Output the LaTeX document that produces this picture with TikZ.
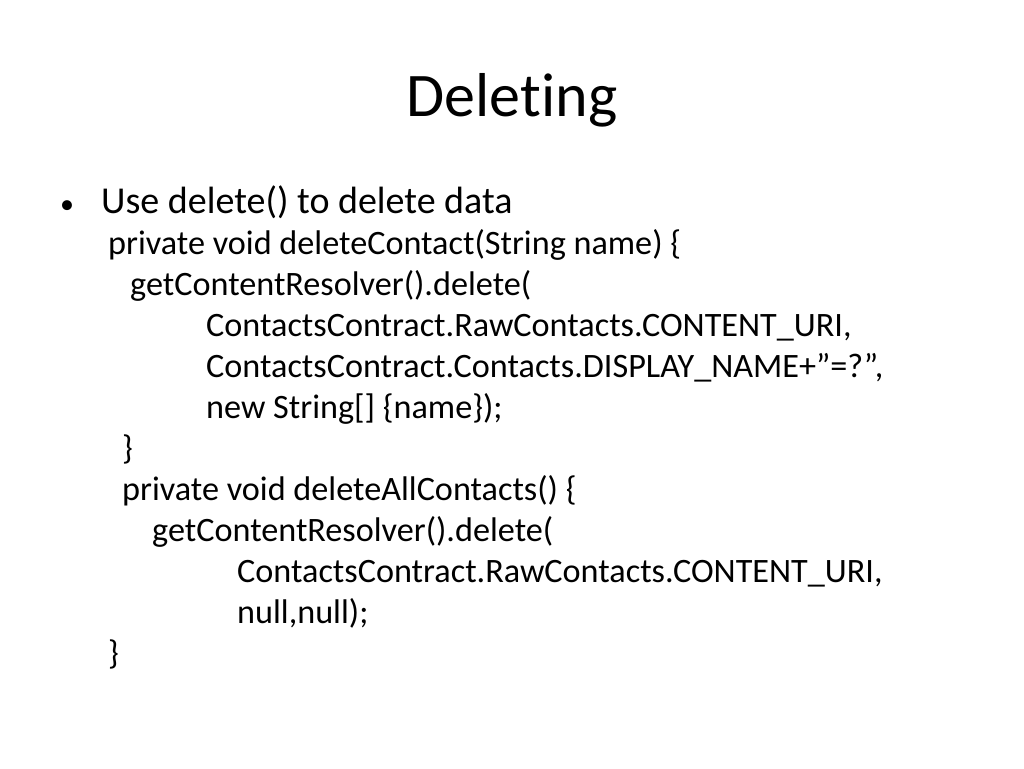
\documentclass[tikz,border=0pt]{standalone}
\usepackage{fontspec}
\setmainfont{Carlito}[Ligatures={NoCommon}]
\begin{document}
\begin{tikzpicture}[x=1pt,y=-1pt,
  ln/.style={anchor=mid west,inner sep=0pt,font=\fontsize{34.2}{40}\selectfont},
  bl/.style={anchor=mid west,inner sep=0pt,font=\fontsize{38}{44}\selectfont}]
\useasboundingbox (0,0) rectangle (1024,768);
\node[inner sep=0pt,font=\fontsize{62}{70}\selectfont] (title) at (512,100) {Deleting};
\node[anchor=mid west,inner sep=0pt,font=\fontsize{28}{30}\selectfont] (b) at (60,211) {•};
\node[bl] (l0) at (101,211) {Use delete() to delete data};
\node[ln] (l1) at (108,252) {private void deleteContact(String name) \{};
\node[ln] (l2) at (130,293) {getContentResolver().delete(};
\node[ln] (l3) at (206,334) {ContactsContract.RawContacts.CONTENT\_URI,};
\node[ln] (l4) at (206,375) {ContactsContract.Contacts.DISPLAY\_NAME+”=?”,};
\node[ln] (l5) at (206,416) {new String[] \{name\});};
\node[ln] (l6) at (122,457) {\}};
\node[ln] (l7) at (122,498) {private void deleteAllContacts() \{};
\node[ln] (l8) at (152,539) {getContentResolver().delete(};
\node[ln] (l9) at (237,580) {ContactsContract.RawContacts.CONTENT\_URI,};
\node[ln] (l10) at (237,621) {null,null);};
\node[ln] (l11) at (108,662) {\}};
\end{tikzpicture}
\end{document}
